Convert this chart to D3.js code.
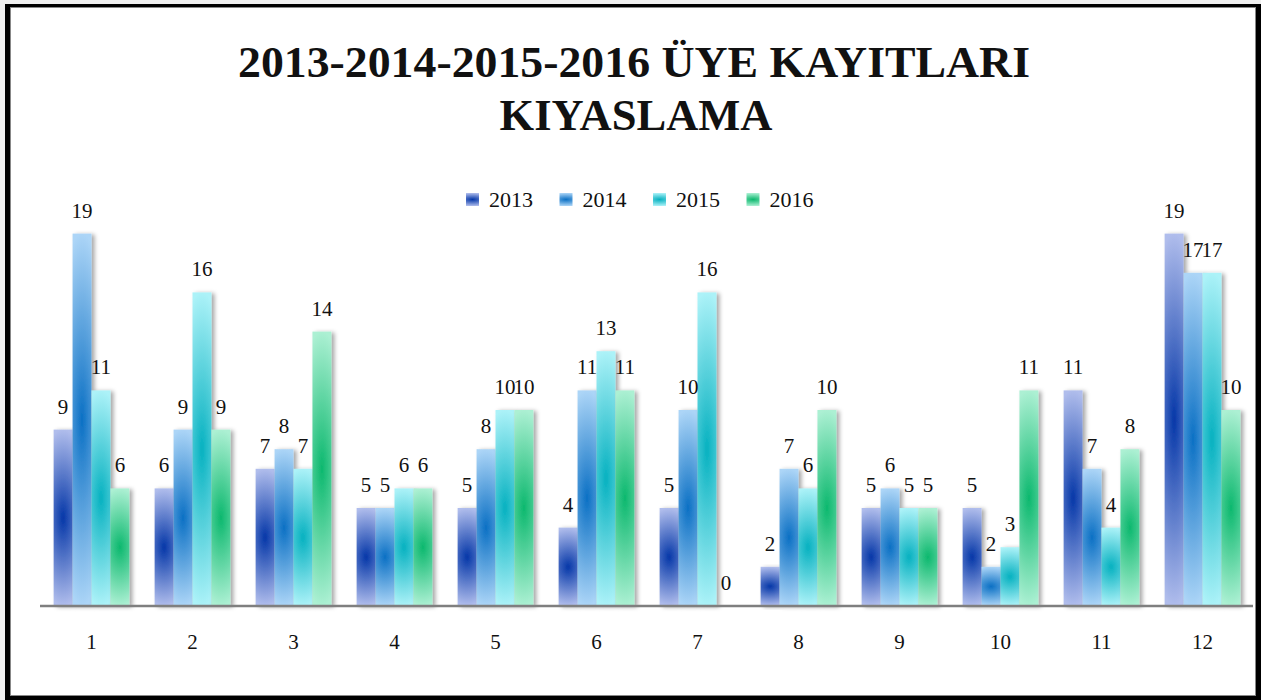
<!DOCTYPE html>
<html>
<head>
<meta charset="utf-8">
<script src="https://cdn.jsdelivr.net/npm/d3@7"></script>
<style>
  body { margin: 0; background: #f0f0f0; }
  svg { display: block; }
  text { font-family: 'Liberation Serif', 'DejaVu Serif', serif; fill: #111; }
</style>
</head>
<body>
<div id="chart"></div>
<script>
const months = ['1', '2', '3', '4', '5', '6', '7', '8', '9', '10', '11', '12']
const seriesNames = ['2013', '2014', '2015', '2016']
const values2013 = [9, 6, 7, 5, 5, 4, 5, 2, 5, 5, 11, 19]
const values2014 = [19, 9, 8, 5, 8, 11, 10, 7, 6, 2, 7, 17]
const values2015 = [11, 16, 7, 6, 10, 13, 16, 6, 5, 3, 4, 17]
const values2016 = [6, 9, 14, 6, 10, 11, 0, 10, 5, 11, 8, 10]
const titleLines = ['2013-2014-2015-2016 ÜYE KAYITLARI', 'KIYASLAMA']

const allValues = [values2013, values2014, values2015, values2016]
const darkColors = ['#0537a8', '#0b70c4', '#06b1c0', '#0cb86e']
const lightColors = ['#b0bdec', '#acd5f7', '#acf2f8', '#acf0d3']

const W = 1261, H = 700

const svg = d3.select('#chart').append('svg')
  .attr('width', W).attr('height', H)

const defs = svg.append('defs')
seriesNames.forEach((s, i) => {
  const g = defs.append('radialGradient')
    .attr('id', 'grad' + i)
    .attr('cx', 0.5).attr('cy', 0.5).attr('r', 0.5)
    .attr('gradientTransform', 'translate(0.5,0.5) scale(3,1) translate(-0.5,-0.5)')
  g.append('stop').attr('offset', '0%').attr('stop-color', darkColors[i])
  g.append('stop').attr('offset', '100%').attr('stop-color', lightColors[i])
})
const shadow = defs.append('filter').attr('id', 'shadow')
  .attr('x', '-20%').attr('y', '-5%').attr('width', '160%').attr('height', '115%')
shadow.append('feDropShadow')
  .attr('dx', 3).attr('dy', 1).attr('stdDeviation', 2)
  .attr('flood-color', '#000').attr('flood-opacity', 0.35)

// frame
svg.append('rect').attr('x', 0).attr('y', 0).attr('width', W).attr('height', H).attr('fill', '#f0f0f0')
svg.append('rect').attr('x', 5).attr('y', 4).attr('width', W - 5).attr('height', H - 4).attr('fill', '#000')
svg.append('rect').attr('x', 10).attr('y', 7).attr('width', W - 15).attr('height', H - 11).attr('fill', '#888')
svg.append('rect').attr('x', 11).attr('y', 8).attr('width', W - 17).attr('height', H - 13).attr('fill', '#fff')

// title
svg.append('text')
  .attr('x', 634).attr('y', 77)
  .attr('text-anchor', 'middle')
  .attr('font-size', 44).attr('font-weight', 'bold')
  .attr('textLength', 792).attr('lengthAdjust', 'spacingAndGlyphs')
  .text(titleLines[0])
svg.append('text')
  .attr('x', 636).attr('y', 130)
  .attr('text-anchor', 'middle')
  .attr('font-size', 44).attr('font-weight', 'bold')
  .attr('textLength', 273).attr('lengthAdjust', 'spacingAndGlyphs')
  .text(titleLines[1])

// legend
const legend = svg.append('g').attr('transform', 'translate(466,193)')
seriesNames.forEach((s, i) => {
  const item = legend.append('g').attr('transform', `translate(${i * 93.5},0)`)
  item.append('rect').attr('width', 13).attr('height', 13).attr('fill', `url(#grad${i})`)
  item.append('text').attr('x', 23).attr('y', 14).attr('font-size', 22).text(s)
})

// scales
const x0 = d3.scaleBand().domain(months).range([41, 1253])
  .paddingInner(0.25).paddingOuter(0.125)
const x1 = d3.scaleBand().domain(seriesNames).range([0, x0.bandwidth()])
const y = d3.scaleLinear().domain([0, 20]).range([606, 214])

const data = months.map((m, mi) => ({
  month: m,
  vals: seriesNames.map((s, si) => ({ series: s, si, value: allValues[si][mi] })),
}))

const groups = svg.selectAll('.group').data(data).enter().append('g')
  .attr('transform', (d) => `translate(${x0(d.month)},0)`)

groups.selectAll('rect').data((d) => d.vals.filter((v) => v.value > 0)).enter().append('rect')
  .attr('x', (d) => x1(d.series))
  .attr('y', (d) => y(d.value))
  .attr('width', x1.bandwidth())
  .attr('height', (d) => y(0) - y(d.value))
  .attr('fill', (d) => `url(#grad${d.si})`)
  .attr('filter', 'url(#shadow)')

groups.selectAll('.label').data((d) => d.vals).enter().append('text')
  .attr('class', 'label')
  .attr('x', (d) => x1(d.series) + x1.bandwidth() / 2)
  .attr('y', (d) => y(d.value) - 16)
  .attr('text-anchor', 'middle')
  .attr('font-size', 21)
  .text((d) => d.value)

// axis
const xAxis = svg.append('g').attr('transform', `translate(0,${y(0)})`)
  .call(d3.axisBottom(x0).tickSize(0).tickPadding(28))
xAxis.select('.domain').attr('stroke', '#7f7f7f').attr('stroke-width', 2.5)
  .attr('d', 'M40,0H1253')
xAxis.selectAll('text')
  .attr('font-size', 21)
  .attr('font-family', "'Liberation Serif', serif")
  .attr('fill', '#111')
</script>
</body>
</html>
